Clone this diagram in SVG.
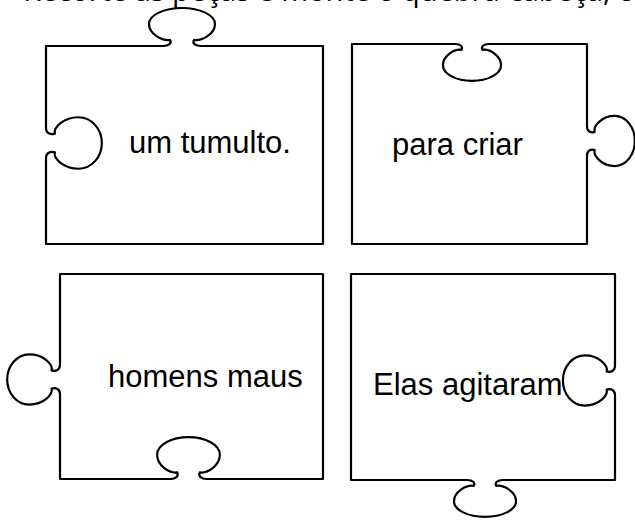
<svg xmlns="http://www.w3.org/2000/svg" xmlns:xlink="http://www.w3.org/1999/xlink" width="635" height="522" viewBox="0 0 635 522">
<style>
.edge{fill:none;stroke:#000;stroke-width:2.2;stroke-linejoin:round;stroke-linecap:round}
.knob{fill:none;stroke:#000;stroke-width:2.2;stroke-linecap:round;vector-effect:non-scaling-stroke}
.lbl{font-family:"Liberation Sans",Arial,sans-serif;font-size:31px;fill:#000}
.top{font-family:"Open Sans","Liberation Sans",sans-serif;font-size:29px;fill:#000}
</style>
<defs>
<path id="k" class="knob" d="M -19 0 C -13 0 -10 -3 -12 -6 C -20 -5 -33 -12 -33 -22 C -33 -31 -18 -38 0 -38 C 18 -38 33 -31 33 -22 C 33 -12 20 -5 12 -6 C 10 -3 13 0 19 0"/>
</defs>
<rect width="635" height="522" fill="#fff"/>
<g id="header">
<text class="top" x="395" y="0.5" text-anchor="end">Recorte as peças e monte o</text>
<text class="top" x="402" y="0.5">quebra-cabeça, c</text>
</g>
<g id="piece1">
<path class="edge" d="M 163 46 H 46 V 128 M 46 158 V 244 H 323 V 46 H 201"/>
<use xlink:href="#k" transform="translate(182,46) scale(1,1)"/>
<use xlink:href="#k" transform="translate(46,143) rotate(90) scale(0.78,1.47)"/>
<text class="lbl" x="129" y="153">um tumulto.</text>
</g>
<g id="piece2">
<path class="edge" d="M 455.3 44 H 352 V 244 H 587 V 155.4 M 587 126.6 V 44 H 488.7"/>
<use xlink:href="#k" transform="translate(472,44) rotate(180) scale(0.88,0.97)"/>
<use xlink:href="#k" transform="translate(587,141) rotate(90) scale(0.76,1.26)"/>
<text class="lbl" x="392" y="155">para criar</text>
</g>
<g id="piece3">
<path class="edge" d="M 60 365 V 274 H 323 V 479 H 206.5 M 170.5 479 H 60 V 394"/>
<use xlink:href="#k" transform="translate(60,379.5) rotate(-90) scale(0.76,1.39)"/>
<use xlink:href="#k" transform="translate(188.5,479) scale(0.95,1.1)"/>
<text class="lbl" x="108" y="387">homens maus</text>
</g>
<g id="piece4">
<path class="edge" d="M 467 480 H 351 V 274 H 615 V 366 M 615 395 V 480 H 503"/>
<use xlink:href="#k" transform="translate(615,380.5) rotate(-90) scale(0.76,1.37)"/>
<use xlink:href="#k" transform="translate(485,480) rotate(180) scale(0.94,0.97)"/>
<text class="lbl" x="373" y="395">Elas agitaram</text>
</g>
<g id="connectors"></g>
</svg>
